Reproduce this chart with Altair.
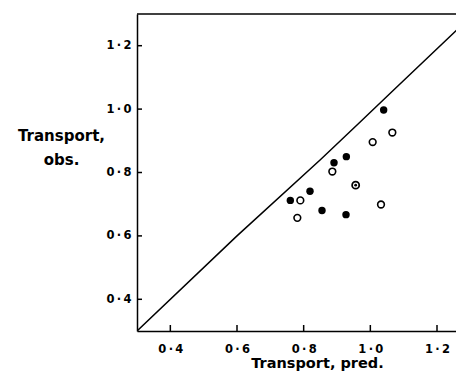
import altair as alt
import pandas as pd

# Data
filled_x = [1.040, 0.928, 0.891, 0.819, 0.760, 0.855, 0.927]
filled_y = [0.997, 0.850, 0.831, 0.741, 0.712, 0.680, 0.667]
open_x = [1.066, 1.007, 0.886, 0.790, 0.781, 1.032]
open_y = [0.926, 0.896, 0.803, 0.712, 0.657, 0.699]
dotted_x = [0.956]
dotted_y = [0.760]
line_x = [0.30, 0.60, 0.85, 0.96, 1.07, 1.26]
line_y = [0.30, 0.60, 0.84, 0.95, 1.06, 1.25]
tick_values = [0.4, 0.6, 0.8, 1.0, 1.2]

W, H = 319, 317
X_MAX = 1.257
FONT = "DejaVu Sans"

xs = alt.Scale(domain=[0.3, X_MAX], nice=False, zero=False)
ys = alt.Scale(domain=[0.3, 1.3], nice=False, zero=False)

label_expr = "replace(format(datum.value, '.1f'), '.', '\u2009·\u2009')"

xaxis = alt.Axis(values=tick_values, labelExpr=label_expr, ticks=False, tickSize=0,
                 labelPadding=12, labelFont=FONT, labelFontSize=11.5, labelFontWeight="bold",
                 labelColor="black",
                 domainColor="black", domainWidth=1.5, grid=False,
                 title="Transport,  pred.", titleFont=FONT, titleFontSize=14.5,
                 titleFontWeight="bold", titleColor="black",
                 titleX=180, titleY=36, titleAlign="center", titleBaseline="alphabetic")
yaxis = alt.Axis(values=tick_values, labelExpr=label_expr, ticks=False, tickSize=0,
                 labelPadding=6, labelFont=FONT, labelFontSize=11.5, labelFontWeight="bold",
                 labelColor="black",
                 domainColor="black", domainWidth=1.5, grid=False,
                 title=["Transport,", "obs."], titleFont=FONT, titleFontSize=15,
                 titleFontWeight="bold", titleColor="black", titleAngle=0,
                 titleX=-76, titleY=126, titleAlign="center", titleBaseline="alphabetic",
                 titleLineHeight=24)

X = alt.X("x:Q", scale=xs, axis=xaxis)
Y = alt.Y("y:Q", scale=ys, axis=yaxis)

df_filled = pd.DataFrame({"x": filled_x, "y": filled_y})
df_open = pd.DataFrame({"x": open_x, "y": open_y})
df_dot = pd.DataFrame({"x": dotted_x, "y": dotted_y})
df_line = pd.DataFrame({"x": line_x, "y": line_y})
df_xt = pd.DataFrame({"x": tick_values, "y": [0.3] * len(tick_values)})
df_yt = pd.DataFrame({"x": [0.3] * len(tick_values), "y": tick_values})
df_top = pd.DataFrame({"x": [0.3], "x2": [X_MAX], "y": [1.3]})

line = alt.Chart(df_line).mark_line(color="black", strokeWidth=1.5, clip=True).encode(x=X, y=Y)
filled = alt.Chart(df_filled).mark_point(shape="circle", filled=True, color="black",
                                         size=55, opacity=1).encode(x=X, y=Y)
opn = alt.Chart(df_open).mark_point(shape="circle", filled=False, color="black",
                                    size=45, strokeWidth=1.6, opacity=1).encode(x=X, y=Y)
dot_ring = alt.Chart(df_dot).mark_point(shape="circle", filled=False, color="black",
                                        size=50, strokeWidth=1.8, opacity=1).encode(x=X, y=Y)
dot_c = alt.Chart(df_dot).mark_point(shape="circle", filled=True, color="black",
                                     size=8, opacity=1).encode(x=X, y=Y)
xt = alt.Chart(df_xt).mark_rule(color="black", strokeWidth=1.5).encode(
    x=X, y=alt.value(H), y2=alt.value(H - 6))
yt = alt.Chart(df_yt).mark_rule(color="black", strokeWidth=1.5).encode(
    y=Y, x=alt.value(0), x2=alt.value(5))
top = alt.Chart(df_top).mark_rule(color="black", strokeWidth=1.5).encode(
    x=X, x2="x2:Q", y=Y)

chart = alt.layer(line, xt, yt, top, opn, filled, dot_ring, dot_c).properties(
    width=W, height=H,
    autosize=alt.AutoSizeParams(type="none"),
    padding={"left": 129, "top": 6, "right": 0, "bottom": 42},
    background="white",
).configure_view(stroke=None)

chart.save("out.html", embed_options={"renderer": "svg", "actions": False})
